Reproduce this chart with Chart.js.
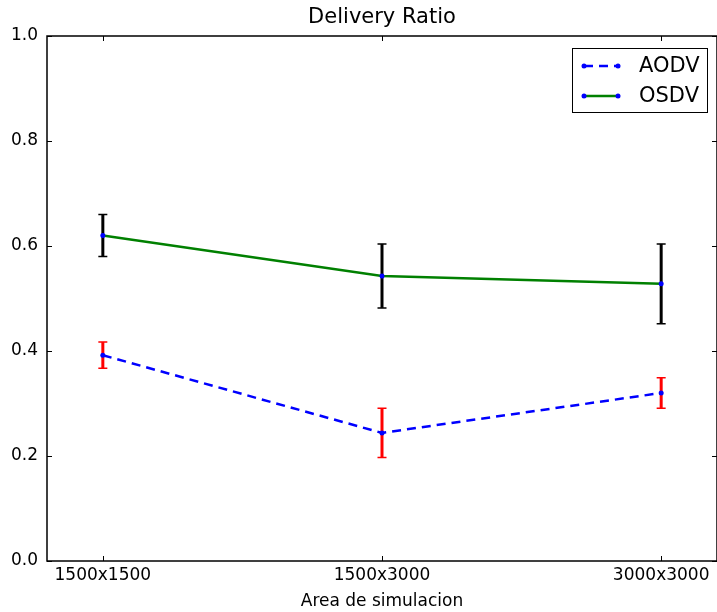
<!DOCTYPE html>
<html lang="es">
<head>
  <meta charset="utf-8" />
  <title>Delivery Ratio</title>
  <script src="https://cdn.jsdelivr.net/npm/chart.js@4.4.1/dist/chart.umd.min.js"></script>
  <style>
    html, body { margin: 0; padding: 0; background: #fff; }
    #wrap { width: 717px; height: 612px; }
  </style>
</head>
<body>
  <div id="wrap"><canvas id="chart" width="717" height="612"></canvas></div>
  <script>
    // scenario sizes on the x axis
    const areas = ['1500x1500', '1500x3000', '3000x3000']
    const yTicks = [0, 0.2, 0.4, 0.6, 0.8, 1.0]

    // mean delivery ratio and its spread per protocol
    const aodv = [0.392, 0.244, 0.320]
    const aodvErr = [0.025, 0.047, 0.029]
    const osdv = [0.620, 0.543, 0.528]
    const osdvErr = [0.040, 0.061, 0.076]

    const FONT = 'DejaVu Sans'

    const toPoints = (vals) => vals.map((v, i) => ({ x: i, y: v }))

    // vertical error bars with caps, drawn under the lines
    const errorBars = {
      id: 'errorBars',
      beforeDatasetsDraw(chart) {
        const { ctx, scales: { x, y } } = chart
        chart.data.datasets.forEach((ds) => {
          ctx.save()
          ctx.strokeStyle = ds.errColor
          ds.data.forEach((p, i) => {
            const px = x.getPixelForValue(p.x)
            const top = y.getPixelForValue(p.y + ds.err[i])
            const bot = y.getPixelForValue(p.y - ds.err[i])
            ctx.lineWidth = 3
            ctx.beginPath()
            ctx.moveTo(px, top)
            ctx.lineTo(px, bot)
            ctx.stroke()
            ctx.lineWidth = 1.5
            ctx.beginPath()
            ctx.moveTo(px - 4.5, top)
            ctx.lineTo(px + 4.5, top)
            ctx.moveTo(px - 4.5, bot)
            ctx.lineTo(px + 4.5, bot)
            ctx.stroke()
          })
          ctx.restore()
        })
      },
    }

    // box frame, inward tick marks on all sides, title over the axes and the boxed legend
    const frame = {
      id: 'frame',
      afterDraw(chart) {
        const { ctx, chartArea: a, scales: { x, y } } = chart
        ctx.save()
        ctx.strokeStyle = '#000'
        ctx.lineWidth = 1
        ctx.beginPath()
        yTicks.forEach((v) => {
          const py = Math.round(y.getPixelForValue(v)) + 0.5
          ctx.moveTo(a.left, py); ctx.lineTo(a.left + 5, py)
          ctx.moveTo(a.right, py); ctx.lineTo(a.right - 5, py)
        })
        areas.forEach((_, i) => {
          const px = Math.round(x.getPixelForValue(i)) + 0.5
          ctx.moveTo(px, a.bottom); ctx.lineTo(px, a.bottom - 5)
          ctx.moveTo(px, a.top); ctx.lineTo(px, a.top + 5)
        })
        ctx.stroke()
        ctx.lineWidth = 1.5
        ctx.strokeRect(a.left, a.top, a.right - a.left, a.bottom - a.top)

        ctx.fillStyle = '#000'
        ctx.font = `21px "${FONT}"`
        ctx.textAlign = 'center'
        ctx.textBaseline = 'middle'
        ctx.fillText('Delivery Ratio', (a.left + a.right) / 2, 18)

        // legend
        const lx = 572, ly = 48, lw = 135, lh = 64
        ctx.fillStyle = '#fff'
        ctx.fillRect(lx, ly, lw, lh)
        ctx.lineWidth = 1
        ctx.strokeRect(lx + 0.5, ly + 0.5, lw, lh)
        chart.data.datasets.forEach((ds, i) => {
          const ey = 66 + i * 30
          ctx.strokeStyle = ds.borderColor
          ctx.lineWidth = ds.borderWidth
          ctx.setLineDash(ds.borderDash || [])
          ctx.beginPath()
          ctx.moveTo(584, ey)
          ctx.lineTo(618, ey)
          ctx.stroke()
          ctx.setLineDash([])
          ctx.fillStyle = ds.pointBackgroundColor
          ;[584, 618].forEach((mx) => {
            ctx.beginPath()
            ctx.arc(mx, ey, 2.5, 0, Math.PI * 2)
            ctx.fill()
          })
          ctx.fillStyle = '#000'
          ctx.font = `21px "${FONT}"`
          ctx.textBaseline = 'middle'
          ctx.textAlign = 'left'
          ctx.fillText(ds.label, 639, ey + 1)
        })
        ctx.restore()
      },
    }

    new Chart(document.getElementById('chart'), {
      type: 'line',
      data: {
        datasets: [
          {
            label: 'AODV',
            data: toPoints(aodv),
            err: aodvErr,
            errColor: '#ff0000',
            borderColor: '#0000ff',
            borderWidth: 2.5,
            borderDash: [9, 6],
            pointRadius: 2.5,
            pointBackgroundColor: '#0000ff',
            pointBorderWidth: 0,
            tension: 0,
          },
          {
            label: 'OSDV',
            data: toPoints(osdv),
            err: osdvErr,
            errColor: '#000000',
            borderColor: '#008000',
            borderWidth: 2.5,
            pointRadius: 2.5,
            pointBackgroundColor: '#0000ff',
            pointBorderWidth: 0,
            tension: 0,
          },
        ],
      },
      options: {
        responsive: false,
        animation: false,
        // plot box runs slightly past the right edge of the canvas
        layout: { autoPadding: false, padding: { top: 36, right: -2, bottom: 0, left: 0 } },
        plugins: {
          legend: { display: false },
          tooltip: { enabled: false },
          title: { display: false },
        },
        scales: {
          x: {
            type: 'linear',
            min: -0.2,
            max: 2.2,
            afterBuildTicks: (s) => { s.ticks = areas.map((_, i) => ({ value: i })) },
            afterFit: (s) => {
              s.height = 51
              s.paddingLeft = 0
              s.paddingRight = 0
            },
            grid: { display: false, drawTicks: false },
            border: { display: false },
            ticks: {
              color: '#000',
              padding: 4,
              maxRotation: 0,
              font: { family: FONT, size: 17 },
              callback: (v) => areas[v],
            },
            title: {
              display: true,
              text: 'Area de simulacion',
              color: '#000',
              font: { family: FONT, size: 17 },
              padding: { top: 0, bottom: 0 },
            },
          },
          y: {
            min: 0,
            max: 1,
            afterBuildTicks: (s) => { s.ticks = yTicks.map((v) => ({ value: v })) },
            afterFit: (s) => { s.width = 47 },
            grid: { display: false, drawTicks: false },
            border: { display: false },
            ticks: {
              color: '#000',
              padding: 9,
              font: { family: FONT, size: 17 },
              callback: (v) => v.toFixed(1),
            },
          },
        },
      },
      plugins: [errorBars, frame],
    })
  </script>
</body>
</html>
